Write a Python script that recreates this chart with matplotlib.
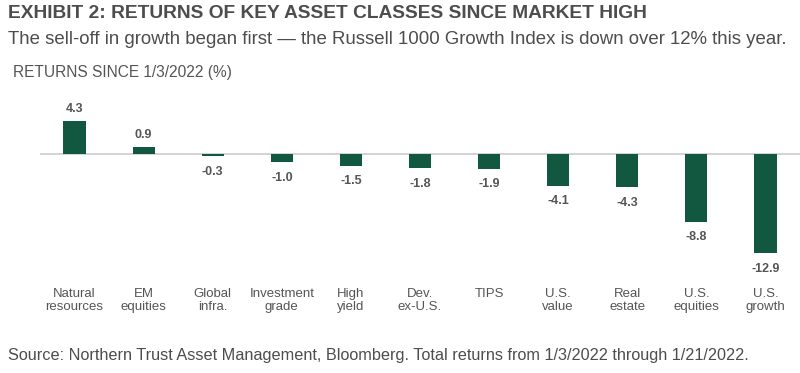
import matplotlib.pyplot as plt

categories = ["Natural\nresources", "EM\nequities", "Global\ninfra.", "Investment\ngrade",
              "High\nyield", "Dev.\nex-U.S.", "TIPS", "U.S.\nvalue", "Real\nestate",
              "U.S.\nequities", "U.S.\ngrowth"]
returns = [4.3, 0.9, -0.3, -1.0, -1.5, -1.8, -1.9, -4.1, -4.3, -8.8, -12.9]

plt.rcParams['font.family'] = ['Liberation Sans', 'DejaVu Sans']

green = '#12573f'
grey = '#555555'
dark = '#4d4d4d'

fig = plt.figure(figsize=(8, 3.73), dpi=100)
ax = fig.add_axes([0.05, 0.299, 0.95, 0.411])

x = range(len(categories))
ax.bar(x, returns, width=0.32, color=green, zorder=3)
ax.axhline(0, color='#cccccc', lw=1.2, zorder=2)

for xi, v in zip(x, returns):
    if v >= 0:
        ax.annotate(f"{v:.1f}", (xi, v), xytext=(0, 4.5), textcoords='offset points',
                    ha='center', va='bottom', fontsize=9, fontweight='bold', color=grey)
    else:
        ax.annotate(f"{v:.1f}", (xi, v), xytext=(0, -7), textcoords='offset points',
                    ha='center', va='top', fontsize=9, fontweight='bold', color=grey)

ax.set_xlim(-0.5, 10.5)
ax.set_ylim(-14, 6)
ax.set_yticks([])
ax.set_xticks(list(x))
ax.set_xticklabels(categories, fontsize=9.5, color=grey, linespacing=1.15)
ax.tick_params(axis='x', length=0, pad=19)
for s in ax.spines.values():
    s.set_visible(False)

fig.text(0.01, 0.952, "EXHIBIT 2: RETURNS OF KEY ASSET CLASSES SINCE MARKET HIGH",
         fontsize=13.8, fontweight='bold', color=dark, va='baseline')
fig.text(0.01, 0.882, "The sell-off in growth began first \u2014 the Russell 1000 Growth Index is down over 12% this year.",
         fontsize=13.4, color=dark, va='baseline')
fig.text(0.016, 0.794, "RETURNS SINCE 1/3/2022 (%)", fontsize=11.2, color=grey, va='baseline')
fig.text(0.01, 0.035, "Source: Northern Trust Asset Management, Bloomberg. Total returns from 1/3/2022 through 1/21/2022.",
         fontsize=11.7, color=dark, va='baseline')

fig.savefig("out.png", dpi=100)
